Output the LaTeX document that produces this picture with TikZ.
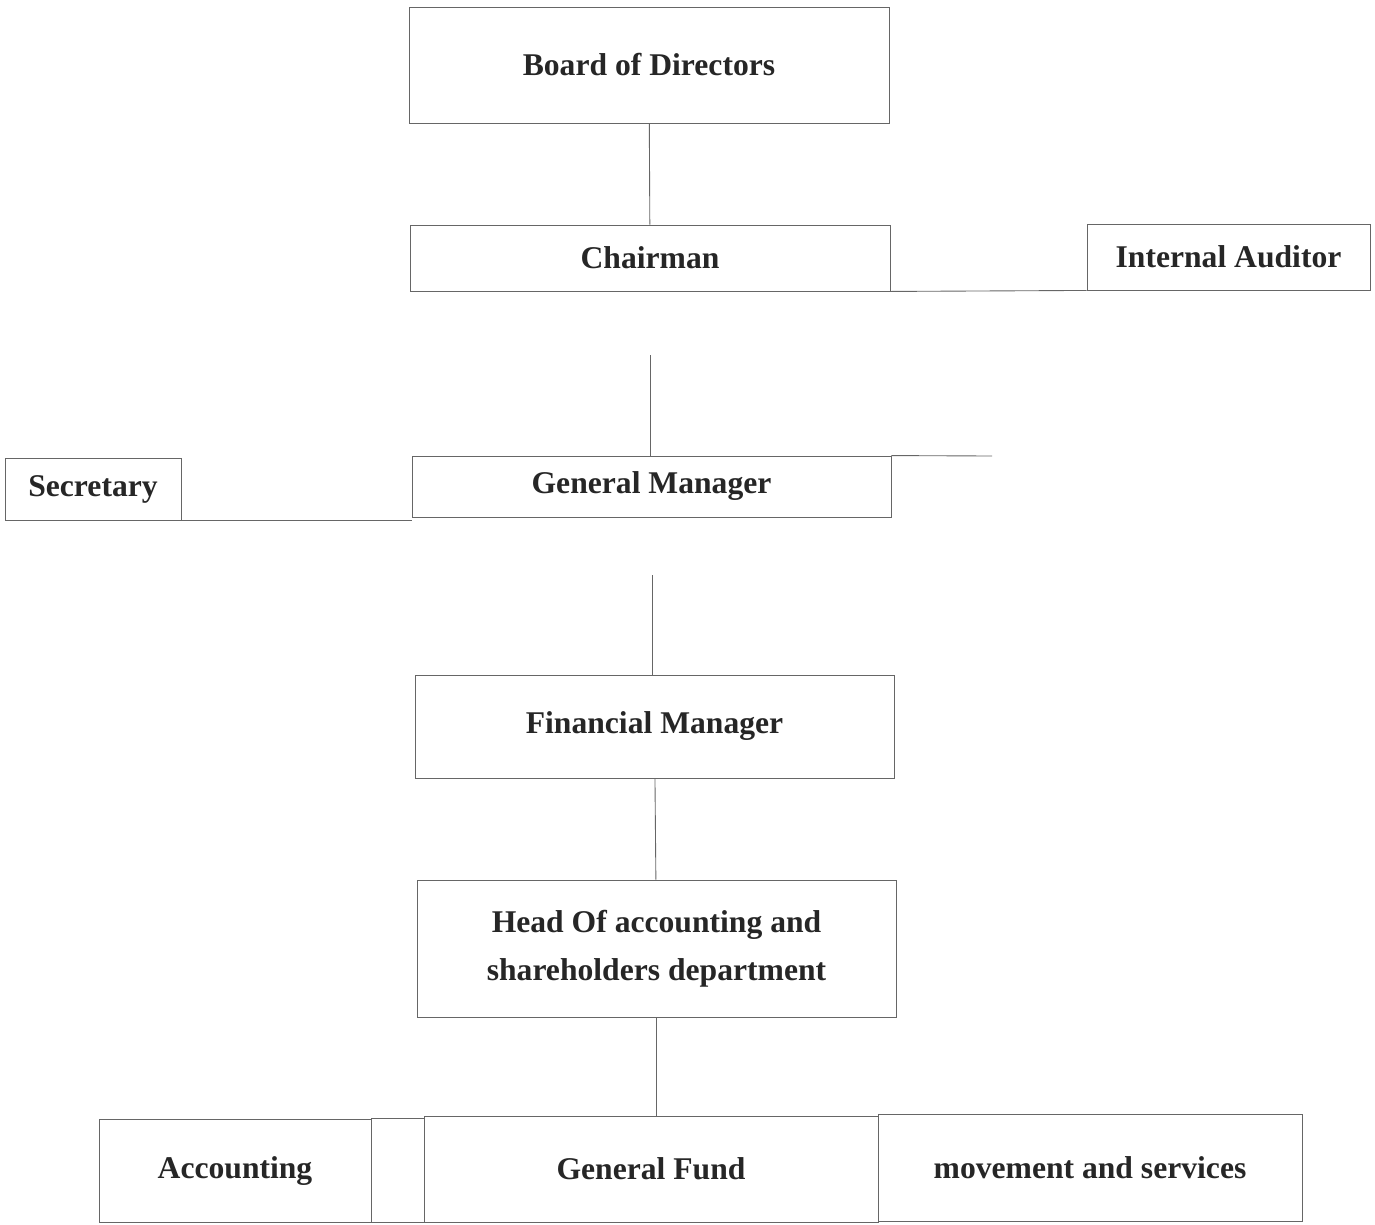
\documentclass[tikz,border=0pt]{standalone}
\usepackage{fontspec}
\setmainfont{Liberation Serif}
\usepackage{tikz}

\begin{document}
\begin{tikzpicture}
	[x=0.02cm, y=-0.02cm,
	every node/.style={draw=black!60,line width=0.5pt,inner sep=0pt,align=center,
		font=\fontsize{18}{27}\selectfont\bfseries,text=black!85},
	orgbox/.style 2 args={minimum width=#1*0.02cm,minimum height=#2*0.02cm},
	link/.style={draw=black!60,line width=0.5pt}]
	\useasboundingbox (0,0) rectangle (1375,1224);
	\node (board) [orgbox={480}{116}] at (649,65) {Board of Directors};
	\node (chair) [orgbox={480}{66}] at (650,258) {Chairman};
	\node (auditor) [orgbox={283}{66}] at (1228.5,257) {Internal Auditor};
	\node (gm) [orgbox={479}{61}] at (651.5,486.5) {General Manager};
	\node (sec) [orgbox={176}{62}] at (93,489) {Secretary};
	\node (fin) [orgbox={479}{103}] at (654.5,726.5) {Financial Manager};
	\node (head) [orgbox={479}{137}] at (656.5,948.5) {Head Of accounting and\\shareholders department};
	\node (acc) [orgbox={272}{103}] at (235,1170.5) {Accounting};
	\node (blank) [orgbox={53}{104}] at (397.5,1170) {};
	\node (fund) [orgbox={454}{106}] at (651,1169) {General Fund};
	\node (move) [orgbox={424}{107}] at (1090,1167.5) {movement and services};
	\coordinate (gmtop) at (650,355);
	\coordinate (gmend) at (992,456);
	\coordinate (fintop) at (652,575);
	\draw [link] (board) -- (chair);
	\draw [link] (chair.south east) -- (auditor.south west);
	\draw [link] (gmtop) -- (gmtop |- gm.north);
	\draw [link] (gm.north east) -- (gmend);
	\draw [link] (sec.south east) -- (sec.south east -| gm.south west);
	\draw [link] (fintop) -- (fintop |- fin.north);
	\draw [link] (fin) -- (head);
	\draw [link] (head.south) -- (head.south |- fund.north);
\end{tikzpicture}
\end{document}
